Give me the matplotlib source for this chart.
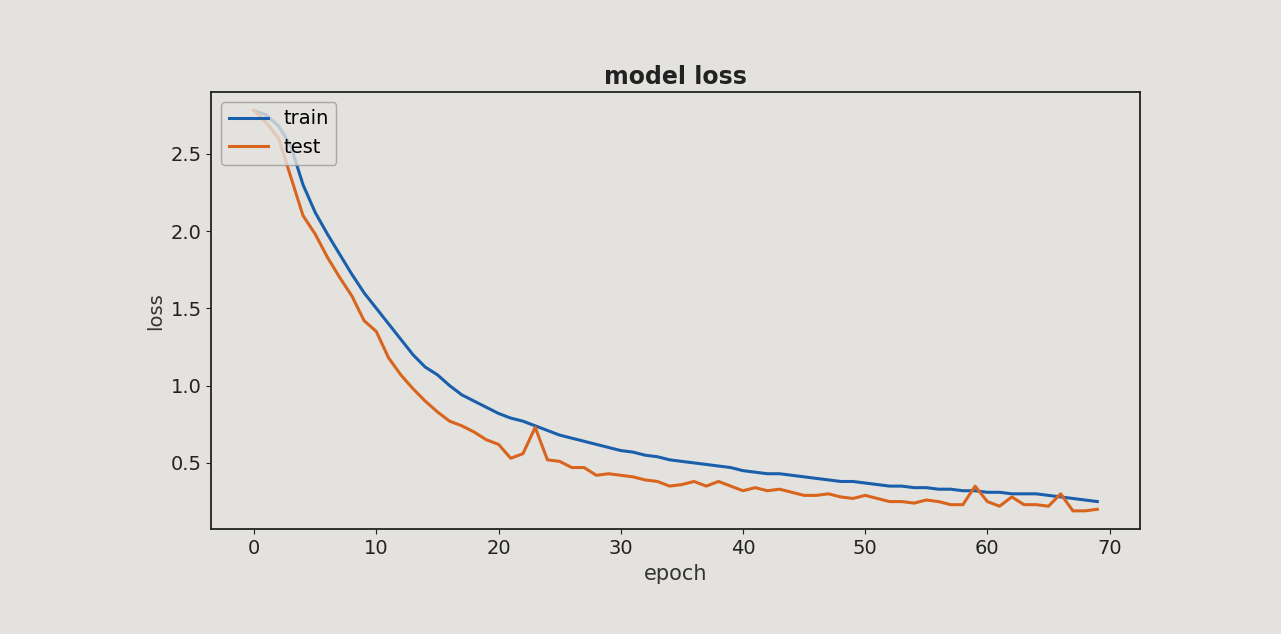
import matplotlib
matplotlib.use('Agg')
import matplotlib.pyplot as plt
import numpy as np

train_loss = [2.78, 2.75, 2.68, 2.55, 2.30, 2.12, 1.98, 1.85, 1.72, 1.60,
              1.50, 1.40, 1.30, 1.20, 1.12, 1.07, 1.00, 0.94, 0.90, 0.86,
              0.82, 0.79, 0.77, 0.74, 0.71, 0.68, 0.66, 0.64, 0.62, 0.60,
              0.58, 0.57, 0.55, 0.54, 0.52, 0.51, 0.50, 0.49, 0.48, 0.47,
              0.45, 0.44, 0.43, 0.43, 0.42, 0.41, 0.40, 0.39, 0.38, 0.38,
              0.37, 0.36, 0.35, 0.35, 0.34, 0.34, 0.33, 0.33, 0.32, 0.32,
              0.31, 0.31, 0.30, 0.30, 0.30, 0.29, 0.28, 0.27, 0.26, 0.25]
test_loss = [2.78, 2.70, 2.60, 2.35, 2.10, 1.98, 1.83, 1.70, 1.58, 1.42,
             1.35, 1.18, 1.07, 0.98, 0.90, 0.83, 0.77, 0.74, 0.70, 0.65,
             0.62, 0.53, 0.56, 0.73, 0.52, 0.51, 0.47, 0.47, 0.42, 0.43,
             0.42, 0.41, 0.39, 0.38, 0.35, 0.36, 0.38, 0.35, 0.38, 0.35,
             0.32, 0.34, 0.32, 0.33, 0.31, 0.29, 0.29, 0.30, 0.28, 0.27,
             0.29, 0.27, 0.25, 0.25, 0.24, 0.26, 0.25, 0.23, 0.23, 0.35,
             0.25, 0.22, 0.28, 0.23, 0.23, 0.22, 0.30, 0.19, 0.19, 0.20]
series_names = ['train', 'test']

epochs = np.arange(len(train_loss))
bg = '#e4e2de'

fig = plt.figure(figsize=(12.81, 6.34), dpi=100, facecolor=bg)
ax = fig.add_axes([0.165, 0.165, 0.725, 0.69], facecolor=bg)

ax.plot(epochs, train_loss, color='#1a5fab', lw=2.2, label=series_names[0])
ax.plot(epochs, test_loss, color='#d8641e', lw=2.2, label=series_names[1])

ax.set_xlim(-3.5, 72.5)
ax.set_ylim(0.07, 2.9)
ax.set_xticks([0, 10, 20, 30, 40, 50, 60, 70])
ax.set_yticks([0.5, 1.0, 1.5, 2.0, 2.5])
ax.tick_params(labelsize=14, colors='#222222')
for s in ax.spines.values():
    s.set_color('#222222')
    s.set_linewidth(1.3)

ax.set_title('model loss', fontsize=17, fontweight='bold', color='#222222')
ax.set_xlabel('epoch', fontsize=15, color='#333333')
ax.set_ylabel('loss', fontsize=14, color='#333333')
leg = ax.legend(loc='upper left', fontsize=14, facecolor=bg, edgecolor='#999999')

plt.savefig('out.png', dpi=100, facecolor=bg)
